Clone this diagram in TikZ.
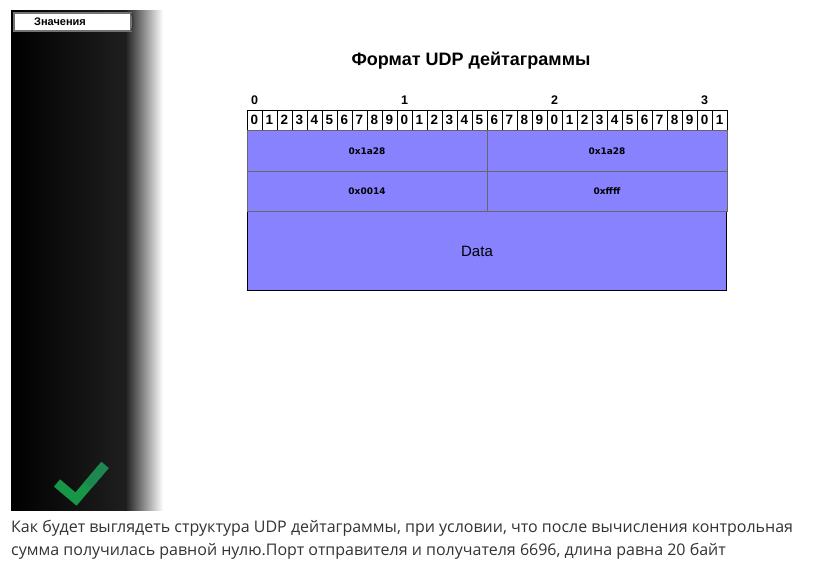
\documentclass[tikz,border=0pt]{standalone}
\usepackage{fontspec}
\setmainfont{Liberation Sans}
\newfontfamily\opensans{Open Sans}
\newfontfamily\dejavu{DejaVu Sans}
\definecolor{udpfill}{RGB}{136,130,255}
\definecolor{okgreen}{RGB}{22,150,70}
\definecolor{okgreendark}{RGB}{30,135,80}
\definecolor{txtgray}{RGB}{51,51,51}
\tikzset{
  bitcell/.style={draw=black, fill=white, line width=0.8pt},
  fieldbox/.style={draw=black!60, fill=udpfill, line width=0.8pt},
  bitlabel/.style={font=\fontsize{13.5}{13.5}\selectfont\bfseries, inner sep=0pt},
  toplabel/.style={font=\fontsize{12.5}{12.5}\selectfont\bfseries, inner sep=0pt},
  vallabel/.style={font=\dejavu\fontsize{9}{9}\selectfont\bfseries, inner sep=0pt},
}
\begin{document}
\begin{tikzpicture}[x=1pt,y=-1pt]
\useasboundingbox (0,0) rectangle (831,568);
% left panel
\shade[left color=black, right color=black!88] (11,10) rectangle (126,510);
\shade[left color=black!88, right color=white] (125.5,10) rectangle (163,510);
\draw[draw=black!55, fill=white, line width=1.2pt] (14,13) rectangle (131,31);
\draw[black!80, line width=0.8pt] (131,13) .. controls (134,18) and (134,26) .. (131,31);
\node[font=\fontsize{11}{11}\selectfont\bfseries, inner sep=0pt] (btn) at (60,21.5) {Значения};
% check mark
\draw[okgreen, line width=9.5pt, line join=miter] (57,483) -- (76,499) -- (105,465);
\draw[okgreendark, line width=9.5pt, line cap=butt] (88,485) -- (105,465);
% title
\node[font=\fontsize{18}{18}\selectfont\bfseries, inner sep=0pt] (title) at (471,61) {Формат UDP дейтаграммы};
% byte numbers
\foreach \k in {0,1,2,3}{
  \node[toplabel] (top\k) at ({247+150*\k+7.5},100) {\k};
}
% bit cells
\foreach \i in {0,...,31}{
  \pgfmathtruncatemacro{\d}{mod(\i,10)}
  \draw[bitcell] ({247+15*\i},110) rectangle ({262+15*\i},130);
  \node[bitlabel] (bit\i) at ({254.5+15*\i},120) {\d};
}
% fields
\draw[fieldbox] (247,130) rectangle (487,171);
\draw[fieldbox] (487,130) rectangle (727,171);
\draw[fieldbox] (247,171) rectangle (487,211);
\draw[fieldbox] (487,171) rectangle (727,211);
\draw[fill=udpfill, draw=black, line width=0.8pt] (247,211) rectangle (726,290);
\draw[black!60, line width=0.8pt] (247,211) -- (727,211);
\node[vallabel] (sport) at (367,151) {0x1a28};
\node[vallabel] (dport) at (607,151) {0x1a28};
\node[vallabel] (len) at (367,191) {0x0014};
\node[vallabel] (csum) at (607,191) {0xffff};
\node[font=\fontsize{15}{15}\selectfont, inner sep=0pt] (data) at (477,251) {Data};
% question text
\node[anchor=base west, inner sep=0pt, text=txtgray] (q1) at (11,532) {\opensans\fontsize{16}{16}\selectfont Как будет выглядеть структура UDP дейтаграммы, при условии, что после вычисления контрольная};
\node[anchor=base west, inner sep=0pt, text=txtgray] (q2) at (11,555) {\opensans\fontsize{16}{16}\selectfont сумма получилась равной нулю.Порт отправителя и получателя 6696, длина равна 20 байт};
\end{tikzpicture}
\end{document}
